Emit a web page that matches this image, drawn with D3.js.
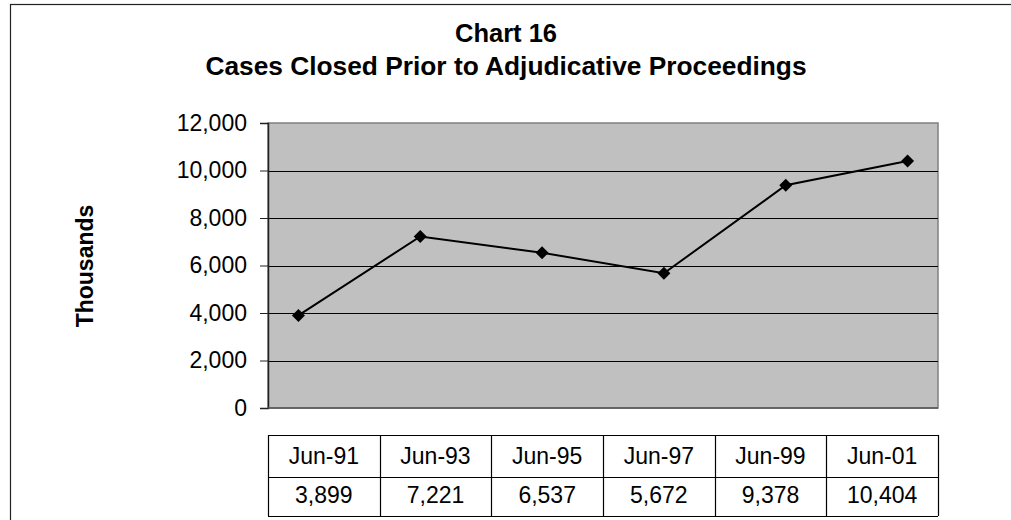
<!DOCTYPE html>
<html>
<head>
<meta charset="utf-8">
<script src="https://cdn.jsdelivr.net/npm/d3@7"></script>
<style>
  html, body { margin: 0; padding: 0; background: #fff; }
  svg { display: block; font-family: "Liberation Sans", Arial, sans-serif; }
</style>
</head>
<body>
<svg id="chart" width="1011" height="520"></svg>
<script>
const categories = ["Jun-91", "Jun-93", "Jun-95", "Jun-97", "Jun-99", "Jun-01"];
const values = [3899, 7221, 6537, 5672, 9378, 10404];
const yTicks = [0, 2000, 4000, 6000, 8000, 10000, 12000];
const titleLines = ["Chart 16", "Cases Closed Prior to Adjudicative Proceedings"];
const yTitle = "Thousands";

const svg = d3.select("#chart");
const plot = { left: 268, right: 938, top: 123, bottom: 408 };
const table = { top: 435, mid: 477, bottom: 516 };

// outer frame
svg.append("rect")
  .attr("x", 10.5).attr("y", 4.5)
  .attr("width", 1100).attr("height", 600)
  .attr("fill", "none").attr("stroke", "#222").attr("stroke-width", 1.2);

// titles
svg.append("text").attr("x", 506).attr("y", 42)
  .attr("text-anchor", "middle").attr("font-weight", "bold").attr("font-size", 25.5)
  .text(titleLines[0]);
svg.append("text").attr("x", 506).attr("y", 75)
  .attr("text-anchor", "middle").attr("font-weight", "bold").attr("font-size", 26.3)
  .text(titleLines[1]);

const x = d3.scalePoint().domain(categories).range([plot.left, plot.right]).padding(0.25);
const y = d3.scaleLinear().domain([0, 12000]).range([plot.bottom, plot.top]);

// plot background
svg.append("rect")
  .attr("x", plot.left).attr("y", plot.top)
  .attr("width", plot.right - plot.left).attr("height", plot.bottom - plot.top)
  .attr("fill", "#c0c0c0").attr("stroke", "#808080").attr("stroke-width", 1.5);

// gridlines
svg.append("g").selectAll("line").data(yTicks.filter(d => d > 0 && d < 12000)).join("line")
  .attr("x1", plot.left).attr("x2", plot.right)
  .attr("y1", d => Math.round(y(d)) + 0.5).attr("y2", d => Math.round(y(d)) + 0.5)
  .attr("stroke", "#000").attr("stroke-width", 1);

// y axis
const yAxis = svg.append("g")
  .attr("transform", `translate(${plot.left},0)`)
  .call(d3.axisLeft(y).tickValues(yTicks).tickFormat(d3.format(",")).tickSize(8).tickPadding(13));
yAxis.select(".domain").attr("stroke", "#222").attr("stroke-width", 1.5);
yAxis.selectAll(".tick line").attr("stroke", "#222");
yAxis.selectAll(".tick text")
  .attr("font-size", 23).attr("fill", "#000")
  .attr("font-family", "'Liberation Sans', Arial, sans-serif");

// bottom edge of plot
svg.append("line")
  .attr("x1", plot.left).attr("x2", plot.right)
  .attr("y1", plot.bottom).attr("y2", plot.bottom)
  .attr("stroke", "#555").attr("stroke-width", 1.5);

// y title
svg.append("text")
  .attr("transform", "translate(93,266) rotate(-90)")
  .attr("text-anchor", "middle").attr("font-weight", "bold").attr("font-size", 23)
  .text(yTitle);

// line
const line = d3.line().x((d, i) => x(categories[i])).y(d => y(d));
svg.append("path").datum(values)
  .attr("d", line).attr("fill", "none").attr("stroke", "#000").attr("stroke-width", 2);

// diamond markers
const r = 6.5;
svg.append("g").selectAll("path").data(values).join("path")
  .attr("transform", (d, i) => `translate(${x(categories[i])},${y(d)})`)
  .attr("d", `M0,${-r}L${r},0L0,${r}L${-r},0Z`)
  .attr("fill", "#000");

// data table
const colX = d3.scaleBand().domain(categories).range([plot.left, plot.right]);
const tg = svg.append("g");
[table.top, table.mid, table.bottom].forEach(yy => {
  tg.append("line").attr("x1", plot.left).attr("x2", plot.right)
    .attr("y1", yy + 0.5).attr("y2", yy + 0.5).attr("stroke", "#000").attr("stroke-width", 1.2);
});
const vlines = categories.map(c => colX(c)).concat([plot.right]);
tg.selectAll("line.v").data(vlines).join("line").attr("class", "v")
  .attr("x1", d => Math.round(d) + 0.5).attr("x2", d => Math.round(d) + 0.5)
  .attr("y1", table.top).attr("y2", table.bottom)
  .attr("stroke", "#000").attr("stroke-width", 1.2);
tg.selectAll("text.cat").data(categories).join("text").attr("class", "cat")
  .attr("x", d => colX(d) + colX.bandwidth() / 2)
  .attr("y", (table.top + table.mid) / 2).attr("dy", "0.35em")
  .attr("text-anchor", "middle").attr("font-size", 23)
  .text(d => d);
tg.selectAll("text.val").data(values).join("text").attr("class", "val")
  .attr("x", (d, i) => colX(categories[i]) + colX.bandwidth() / 2)
  .attr("y", (table.mid + table.bottom) / 2 - 2).attr("dy", "0.35em")
  .attr("text-anchor", "middle").attr("font-size", 23)
  .text(d => d3.format(",")(d));
</script>
</body>
</html>
